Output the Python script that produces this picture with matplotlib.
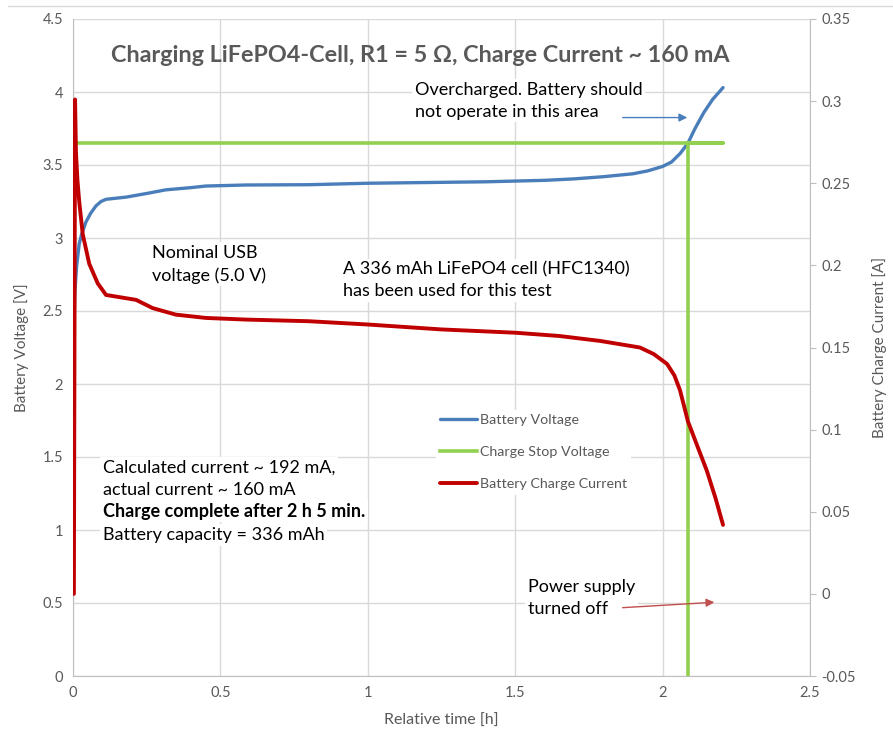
import matplotlib
matplotlib.use("Agg")
import matplotlib.pyplot as plt
from matplotlib.lines import Line2D

plt.rcParams['font.family'] = ['Lato', 'DejaVu Sans']

# --- data ---
t_volt = [0.0, 0.002, 0.006, 0.012, 0.021, 0.03, 0.044, 0.06, 0.078, 0.095, 0.112,
          0.18, 0.25, 0.315, 0.4, 0.451, 0.587, 0.8, 1.0, 1.2, 1.4, 1.5, 1.6, 1.7,
          1.8, 1.9, 1.95, 2.0, 2.03, 2.06, 2.086, 2.11, 2.14, 2.17, 2.205]
volt = [2.2, 2.3, 2.62, 2.8, 2.96, 3.03, 3.11, 3.17, 3.22, 3.25, 3.265,
        3.28, 3.305, 3.33, 3.345, 3.356, 3.363, 3.365, 3.375, 3.38, 3.385, 3.39,
        3.395, 3.405, 3.42, 3.44, 3.46, 3.49, 3.52, 3.58, 3.65, 3.75, 3.86, 3.95, 4.03]

t_stop = [0.0, 2.205, 2.086, 2.086]
v_stop = [3.65, 3.65, 3.65, 0.0]

t_curr = [0.003, 0.007, 0.010, 0.015, 0.021, 0.033, 0.055, 0.084, 0.112, 0.18,
          0.214, 0.27, 0.349, 0.451, 0.587, 0.8, 1.0, 1.25, 1.5, 1.65, 1.788,
          1.923, 1.97, 2.015, 2.04, 2.059, 2.086, 2.12, 2.15, 2.18, 2.205]
curr = [0.0, 0.301, 0.269, 0.252, 0.239, 0.219, 0.201, 0.189, 0.182, 0.180,
        0.179, 0.174, 0.170, 0.168, 0.167, 0.166, 0.164, 0.161, 0.159, 0.157,
        0.154, 0.150, 0.146, 0.140, 0.133, 0.124, 0.105, 0.089, 0.075, 0.058,
        0.042]

x_ticks = [0, 0.5, 1, 1.5, 2, 2.5]
x_labels = ['0', '0.5', '1', '1.5', '2', '2.5']
v_ticks = [0, 0.5, 1, 1.5, 2, 2.5, 3, 3.5, 4, 4.5]
v_labels = ['0', '0.5', '1', '1.5', '2', '2.5', '3', '3.5', '4', '4.5']
i_ticks = [-0.05, 0, 0.05, 0.1, 0.15, 0.2, 0.25, 0.3, 0.35]
i_labels = ['-0.05', '0', '0.05', '0.1', '0.15', '0.2', '0.25', '0.3', '0.35']

BLUE = '#4a7ebb'
GREEN = '#92d050'
RED = '#c00000'
GRID = '#d9d9d9'
AXC = '#bfbfbf'
TXT = '#595959'

fig = plt.figure(figsize=(8.93, 7.33), dpi=100)
ax1 = fig.add_axes([73 / 893, 1 - 676 / 733, (810 - 73) / 893, (676 - 19) / 733])
ax2 = ax1.twinx()

ax1.set_xlim(0, 2.5)
ax1.set_ylim(0, 4.5)
ax2.set_ylim(-0.05, 0.35)

ax1.set_xticks(x_ticks, x_labels)
ax1.set_yticks(v_ticks, v_labels)
ax2.set_yticks(i_ticks, i_labels)
ax1.grid(True, color=GRID, lw=1)
ax1.set_axisbelow(True)

for ax in (ax1, ax2):
    for s in ax.spines.values():
        s.set_visible(False)
ax1.spines['bottom'].set_visible(True)
ax1.spines['bottom'].set_color(AXC)
ax1.spines['left'].set_visible(True)
ax1.spines['left'].set_color(AXC)
ax2.spines['right'].set_visible(True)
ax2.spines['right'].set_color(AXC)

ax1.tick_params(axis='both', length=0, colors=TXT, labelsize=10.5, pad=7)
ax2.tick_params(axis='y', length=4, colors=TXT, labelsize=10.5, pad=4)
ax2.tick_params(axis='y', color=AXC)

ax1.set_xlabel('Relative time [h]', color=TXT, fontsize=11.5, labelpad=10)
ax1.set_ylabel('Battery Voltage [V]', color=TXT, fontsize=11, labelpad=10)
ax2.set_ylabel('Battery Charge Current [A]', color=TXT, fontsize=11, labelpad=12)

l1, = ax1.plot(t_volt, volt, color=BLUE, lw=2.4, label='Battery Voltage',
               solid_capstyle='round')
l2, = ax1.plot(t_stop, v_stop, color=GREEN, lw=2.6, label='Charge Stop Voltage')
l3, = ax2.plot(t_curr, curr, color=RED, lw=2.8, label='Battery Charge Current',
               solid_capstyle='round')

leg = ax2.legend(handles=[l1, l2, l3], loc='upper left',
                 bbox_to_anchor=(436 / 893, 1 - 410 / 733),
                 bbox_transform=fig.transFigure, frameon=True, fontsize=10.3,
                 handlelength=2.6, handletextpad=0.15, labelspacing=1.4,
                 borderpad=0.3, borderaxespad=0)
leg.get_frame().set_edgecolor('none')
leg.get_frame().set_facecolor('white')
leg.get_frame().set_alpha(1)
for t in leg.get_texts():
    t.set_color(TXT)

box = dict(facecolor='white', edgecolor='none', pad=2)
ax1.text(1.177, 4.25, 'Charging LiFePO4-Cell, R1 = 5 Ω, Charge Current ~ 160 mA',
         ha='center', va='center', fontsize=16.8, fontweight='bold', color=TXT)

note = dict(fontsize=13, color='black', va='center', ha='left', linespacing=1.45,
            bbox=box, zorder=5)
ax1.text(1.16, 3.94, 'Overcharged. Battery should\nnot operate in this area', **note)
ax1.text(0.268, 2.82, 'Nominal USB\nvoltage (5.0 V)', **note)
ax1.text(0.916, 2.71, 'A 336 mAh LiFePO4 cell (HFC1340)\nhas been used for this test', **note)
ax1.text(0.102, 1.35, 'Calculated current ~ 192 mA,\nactual current ~ 160 mA', **note)
ax1.text(0.102, 1.13, 'Charge complete after 2 h 5 min.', fontweight='bold', **note)
ax1.text(0.102, 0.966, 'Battery capacity = 336 mAh', **note)
ax1.text(1.543, 0.534, 'Power supply\nturned off', **note)

ax2.annotate('', xy=(2.093, 0.290), xytext=(1.855, 0.290),
             arrowprops=dict(arrowstyle='-|>', color=BLUE, lw=1, mutation_scale=12))
ax2.annotate('', xy=(2.185, -0.005), xytext=(1.855, -0.0085),
             arrowprops=dict(arrowstyle='-|>', color='#c0504d', lw=1, mutation_scale=12))

fig.add_artist(Line2D([8 / 893, 1], [1 - 6 / 733, 1 - 6 / 733], color=GRID, lw=1))

fig.savefig('out.png', dpi=100)
